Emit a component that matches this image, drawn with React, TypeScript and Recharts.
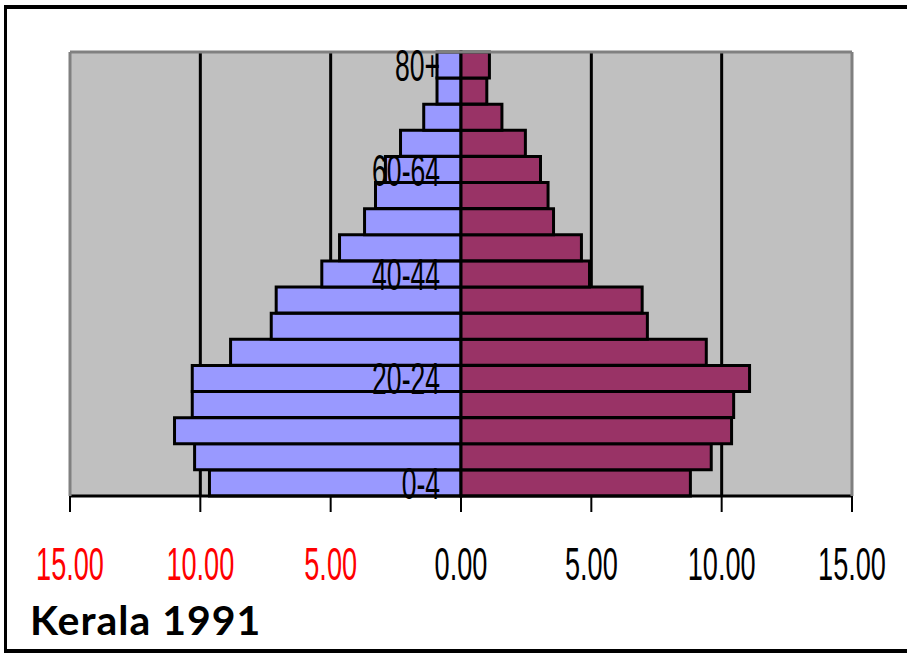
import React from 'react';
import { BarChart, Bar, XAxis, YAxis, CartesianGrid } from 'recharts';

// Age groups, youngest first
const ageGroups = [
  '0-4', '5-9', '10-14', '15-19', '20-24', '25-29', '30-34', '35-39', '40-44',
  '45-49', '50-54', '55-59', '60-64', '65-69', '70-74', '75-79', '80+',
];

// Share of population (%) per age group
const malePct = [
  9.65, 10.22, 10.99, 10.31, 10.31, 8.84, 7.28, 7.09, 5.34,
  4.66, 3.7, 3.28, 2.9, 2.32, 1.43, 0.92, 0.92,
];
const femalePct = [
  8.8, 9.6, 10.38, 10.46, 11.07, 9.41, 7.15, 6.95, 4.93,
  4.62, 3.55, 3.34, 3.05, 2.47, 1.57, 0.99, 1.09,
];

// Axis ticks and the age labels shown on the vertical axis
const xTicks = [-15, -10, -5, 0, 5, 10, 15];
const gridValues = [-10, -5, 5, 10];
const ageTickLabels = ['0-4', '20-24', '40-44', '60-64', '80+'];

const rows = ageGroups.map((age, i) => ({
  age,
  male: -malePct[i],
  female: femalePct[i],
}));

const NARROW = 0.59;
const LABEL_RIGHT = 440;
const FRAME = '#808080';

const XTick = (props: any) => {
  const { x, y, payload } = props;
  const v = payload.value as number;
  const label = Math.abs(v).toFixed(2);
  return (
    <g transform={`translate(${x},${y + 66}) scale(${NARROW},1)`}>
      <text
        x={0}
        y={0}
        textAnchor="middle"
        fontFamily="'Liberation Sans', Arial, sans-serif"
        fontSize={46}
        fill={v < 0 ? '#FF0000' : '#000000'}
      >
        {label}
      </text>
    </g>
  );
};

const YTick = (props: any) => {
  const { y, payload } = props;
  return (
    <g transform={`translate(${LABEL_RIGHT},${y + 16}) scale(${NARROW},1)`}>
      <text
        x={0}
        y={0}
        textAnchor="end"
        fontFamily="'Liberation Sans', Arial, sans-serif"
        fontSize={45}
        fill="#000000"
      >
        {payload.value}
      </text>
    </g>
  );
};

export default function App() {
  return (
    <div
      style={{
        position: 'fixed',
        left: 0,
        top: 0,
        width: 907,
        height: 656,
        background: '#ffffff',
        overflow: 'hidden',
      }}
    >
      <BarChart
        width={907}
        height={656}
        data={rows}
        layout="vertical"
        stackOffset="sign"
        barCategoryGap={0}
        barGap={0}
        margin={{ top: 50, right: 53, bottom: 0, left: 10 }}
      >
        <CartesianGrid
          horizontal={false}
          fill="#C0C0C0"
          fillOpacity={1}
          stroke="#000000"
          strokeWidth={3}
          verticalValues={gridValues}
        />
        <XAxis
          type="number"
          domain={[-15, 15]}
          ticks={xTicks}
          height={160}
          axisLine={{ stroke: '#000000', strokeWidth: 3 }}
          tickLine={{ stroke: '#000000', strokeWidth: 2 }}
          tickSize={16}
          tick={<XTick />}
          interval={0}
        />
        <XAxis
          xAxisId="top"
          type="number"
          domain={[-15, 15]}
          orientation="top"
          height={2}
          tick={false}
          tickLine={false}
          axisLine={{ stroke: FRAME, strokeWidth: 3 }}
        />
        <YAxis
          type="category"
          dataKey="age"
          reversed
          width={60}
          ticks={ageTickLabels}
          interval={0}
          tickLine={false}
          axisLine={{ stroke: FRAME, strokeWidth: 3 }}
          tick={<YTick />}
        />
        <YAxis
          yAxisId="right"
          type="category"
          dataKey="age"
          reversed
          orientation="right"
          width={2}
          tick={false}
          tickLine={false}
          axisLine={{ stroke: FRAME, strokeWidth: 3 }}
        />
        <Bar
          dataKey="male"
          stackId="pop"
          fill="#9999FF"
          stroke="#000000"
          strokeWidth={3}
          isAnimationActive={false}
        />
        <Bar
          dataKey="female"
          stackId="pop"
          fill="#993366"
          stroke="#000000"
          strokeWidth={3}
          isAnimationActive={false}
        />
      </BarChart>
      <div
        style={{
          position: 'absolute',
          left: 4,
          top: 5,
          width: 1000,
          height: 648,
          boxSizing: 'border-box',
          borderTop: '4px solid #000',
          borderLeft: '3px solid #000',
          borderBottom: '4px solid #000',
          pointerEvents: 'none',
        }}
      />
      <svg
        width={907}
        height={656}
        style={{ position: 'absolute', left: 0, top: 0, pointerEvents: 'none' }}
      >
        <text
          x={30}
          y={635}
          fontFamily="Lato, 'Open Sans', sans-serif"
          fontWeight={700}
          fontSize={41}
          letterSpacing={1}
          fill="#000000"
        >
          Kerala 1991
        </text>
      </svg>
    </div>
  );
}
